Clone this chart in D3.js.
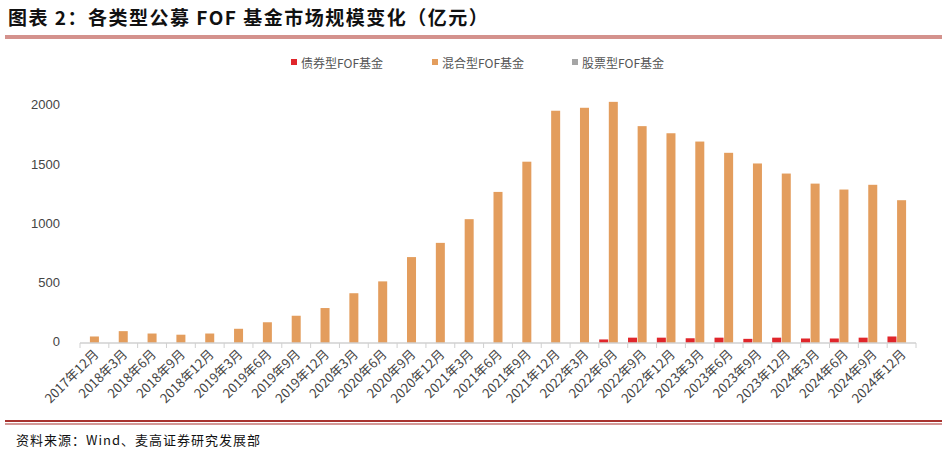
<!DOCTYPE html>
<html><head><meta charset="utf-8">
<script src="https://cdn.jsdelivr.net/npm/d3@7"></script>
<style>body{margin:0;background:#fff;font-family:"Noto Sans CJK SC",sans-serif;}</style>
</head><body>
<script>
const categories = ['2017年12月','2018年3月','2018年6月','2018年9月','2018年12月','2019年3月','2019年6月','2019年9月','2019年12月','2020年3月','2020年6月','2020年9月','2020年12月','2021年3月','2021年6月','2021年9月','2021年12月','2022年3月','2022年6月','2022年9月','2022年12月','2023年3月','2023年6月','2023年9月','2023年12月','2024年3月','2024年6月','2024年9月','2024年12月'];
const bondFOF = [0,0,0,0,0,0,0,0,0,0,0,0,0,0,0,0,0,0,30,45,45,40,45,35,45,38,38,45,55];
const mixedFOF = [55,100,80,70,80,120,175,230,295,420,520,725,845,1045,1275,1530,1960,1985,2035,1830,1770,1700,1605,1515,1430,1345,1295,1335,1205];
const equityFOF = categories.map(() => 0);
const yTicks = [0,500,1000,1500,2000];
const seriesNames = ['债券型FOF基金','混合型FOF基金','股票型FOF基金'];
const seriesColors = ['#e0262b','#e39d5d','#a5a5a5'];

const W = 947, H = 452;
const svg = d3.select('body').append('svg').attr('width', W).attr('height', H);

// title and rules
svg.append('text').attr('x', 8).attr('y', 25).attr('font-size', 19).attr('font-weight', 'bold')
  .attr('letter-spacing', 1.5).attr('fill', '#111').text('图表 2：各类型公募 FOF 基金市场规模变化（亿元）');
svg.append('rect').attr('x', 5).attr('y', 35).attr('width', 937).attr('height', 4).attr('fill', '#d4928d');
svg.append('rect').attr('x', 5).attr('y', 420).attr('width', 937).attr('height', 2).attr('fill', '#a8322e');
svg.append('rect').attr('x', 5).attr('y', 423.5).attr('width', 937).attr('height', 1).attr('fill', '#a8322e');
svg.append('text').attr('x', 16).attr('y', 445).attr('font-size', 13).attr('letter-spacing', 1).attr('fill', '#111')
  .text('资料来源：Wind、麦高证券研究发展部');

// legend
const legendX = [291, 432, 572];
const lg = svg.append('g').selectAll('g').data(seriesNames).join('g')
  .attr('transform', (d, i) => `translate(${legendX[i]},64)`);
lg.append('rect').attr('x', 0).attr('y', -5).attr('width', 6).attr('height', 6).attr('fill', (d, i) => seriesColors[i]);
lg.append('text').attr('x', 10).attr('y', 1).attr('dominant-baseline', 'middle').attr('font-size', 12).attr('fill', '#555').text(d => d);

// scales
const x0 = d3.scaleBand().domain(categories).range([80, 916]);
const x1 = d3.scaleBand().domain([0, 1, 2]).range([0, x0.bandwidth()]);
const y = d3.scaleLinear().domain([0, 2000]).range([343, 106]);

const data = categories.map((c, i) => ({ c, v: [bondFOF[i], mixedFOF[i], equityFOF[i]] }));
svg.append('g').selectAll('g').data(data).join('g')
  .attr('transform', d => `translate(${x0(d.c)},0)`)
  .selectAll('rect').data(d => d.v).join('rect')
  .attr('x', (d, i) => x1(i) + 0.3)
  .attr('width', x1.bandwidth() - 0.6)
  .attr('y', d => y(d))
  .attr('height', d => 343 - y(d))
  .attr('fill', (d, i) => seriesColors[i]);

// y axis labels
svg.append('g').selectAll('text').data(yTicks).join('text')
  .attr('x', 60).attr('y', d => y(d)).attr('text-anchor', 'end').attr('dominant-baseline', 'middle')
  .attr('font-size', 13).attr('fill', '#444').attr('font-family', 'Liberation Sans, sans-serif').text(d => d);

// x axis
const ax = svg.append('g').attr('transform', 'translate(0,343)');
ax.append('line').attr('x1', 80).attr('x2', 916).attr('stroke', '#d0d0d0').attr('stroke-width', 1.5);
ax.selectAll('line.t').data(d3.range(categories.length + 1)).join('line').attr('class', 't')
  .attr('x1', i => 80 + i * x0.step()).attr('x2', i => 80 + i * x0.step())
  .attr('y1', 0).attr('y2', 5).attr('stroke', '#d0d0d0');
ax.selectAll('text').data(categories).join('text')
  .attr('transform', d => `translate(${x0(d) + x0.bandwidth() / 2 + 5},12) rotate(-45)`)
  .attr('text-anchor', 'end').attr('font-size', 13).attr('fill', '#444').text(d => d);
</script>
</body></html>
